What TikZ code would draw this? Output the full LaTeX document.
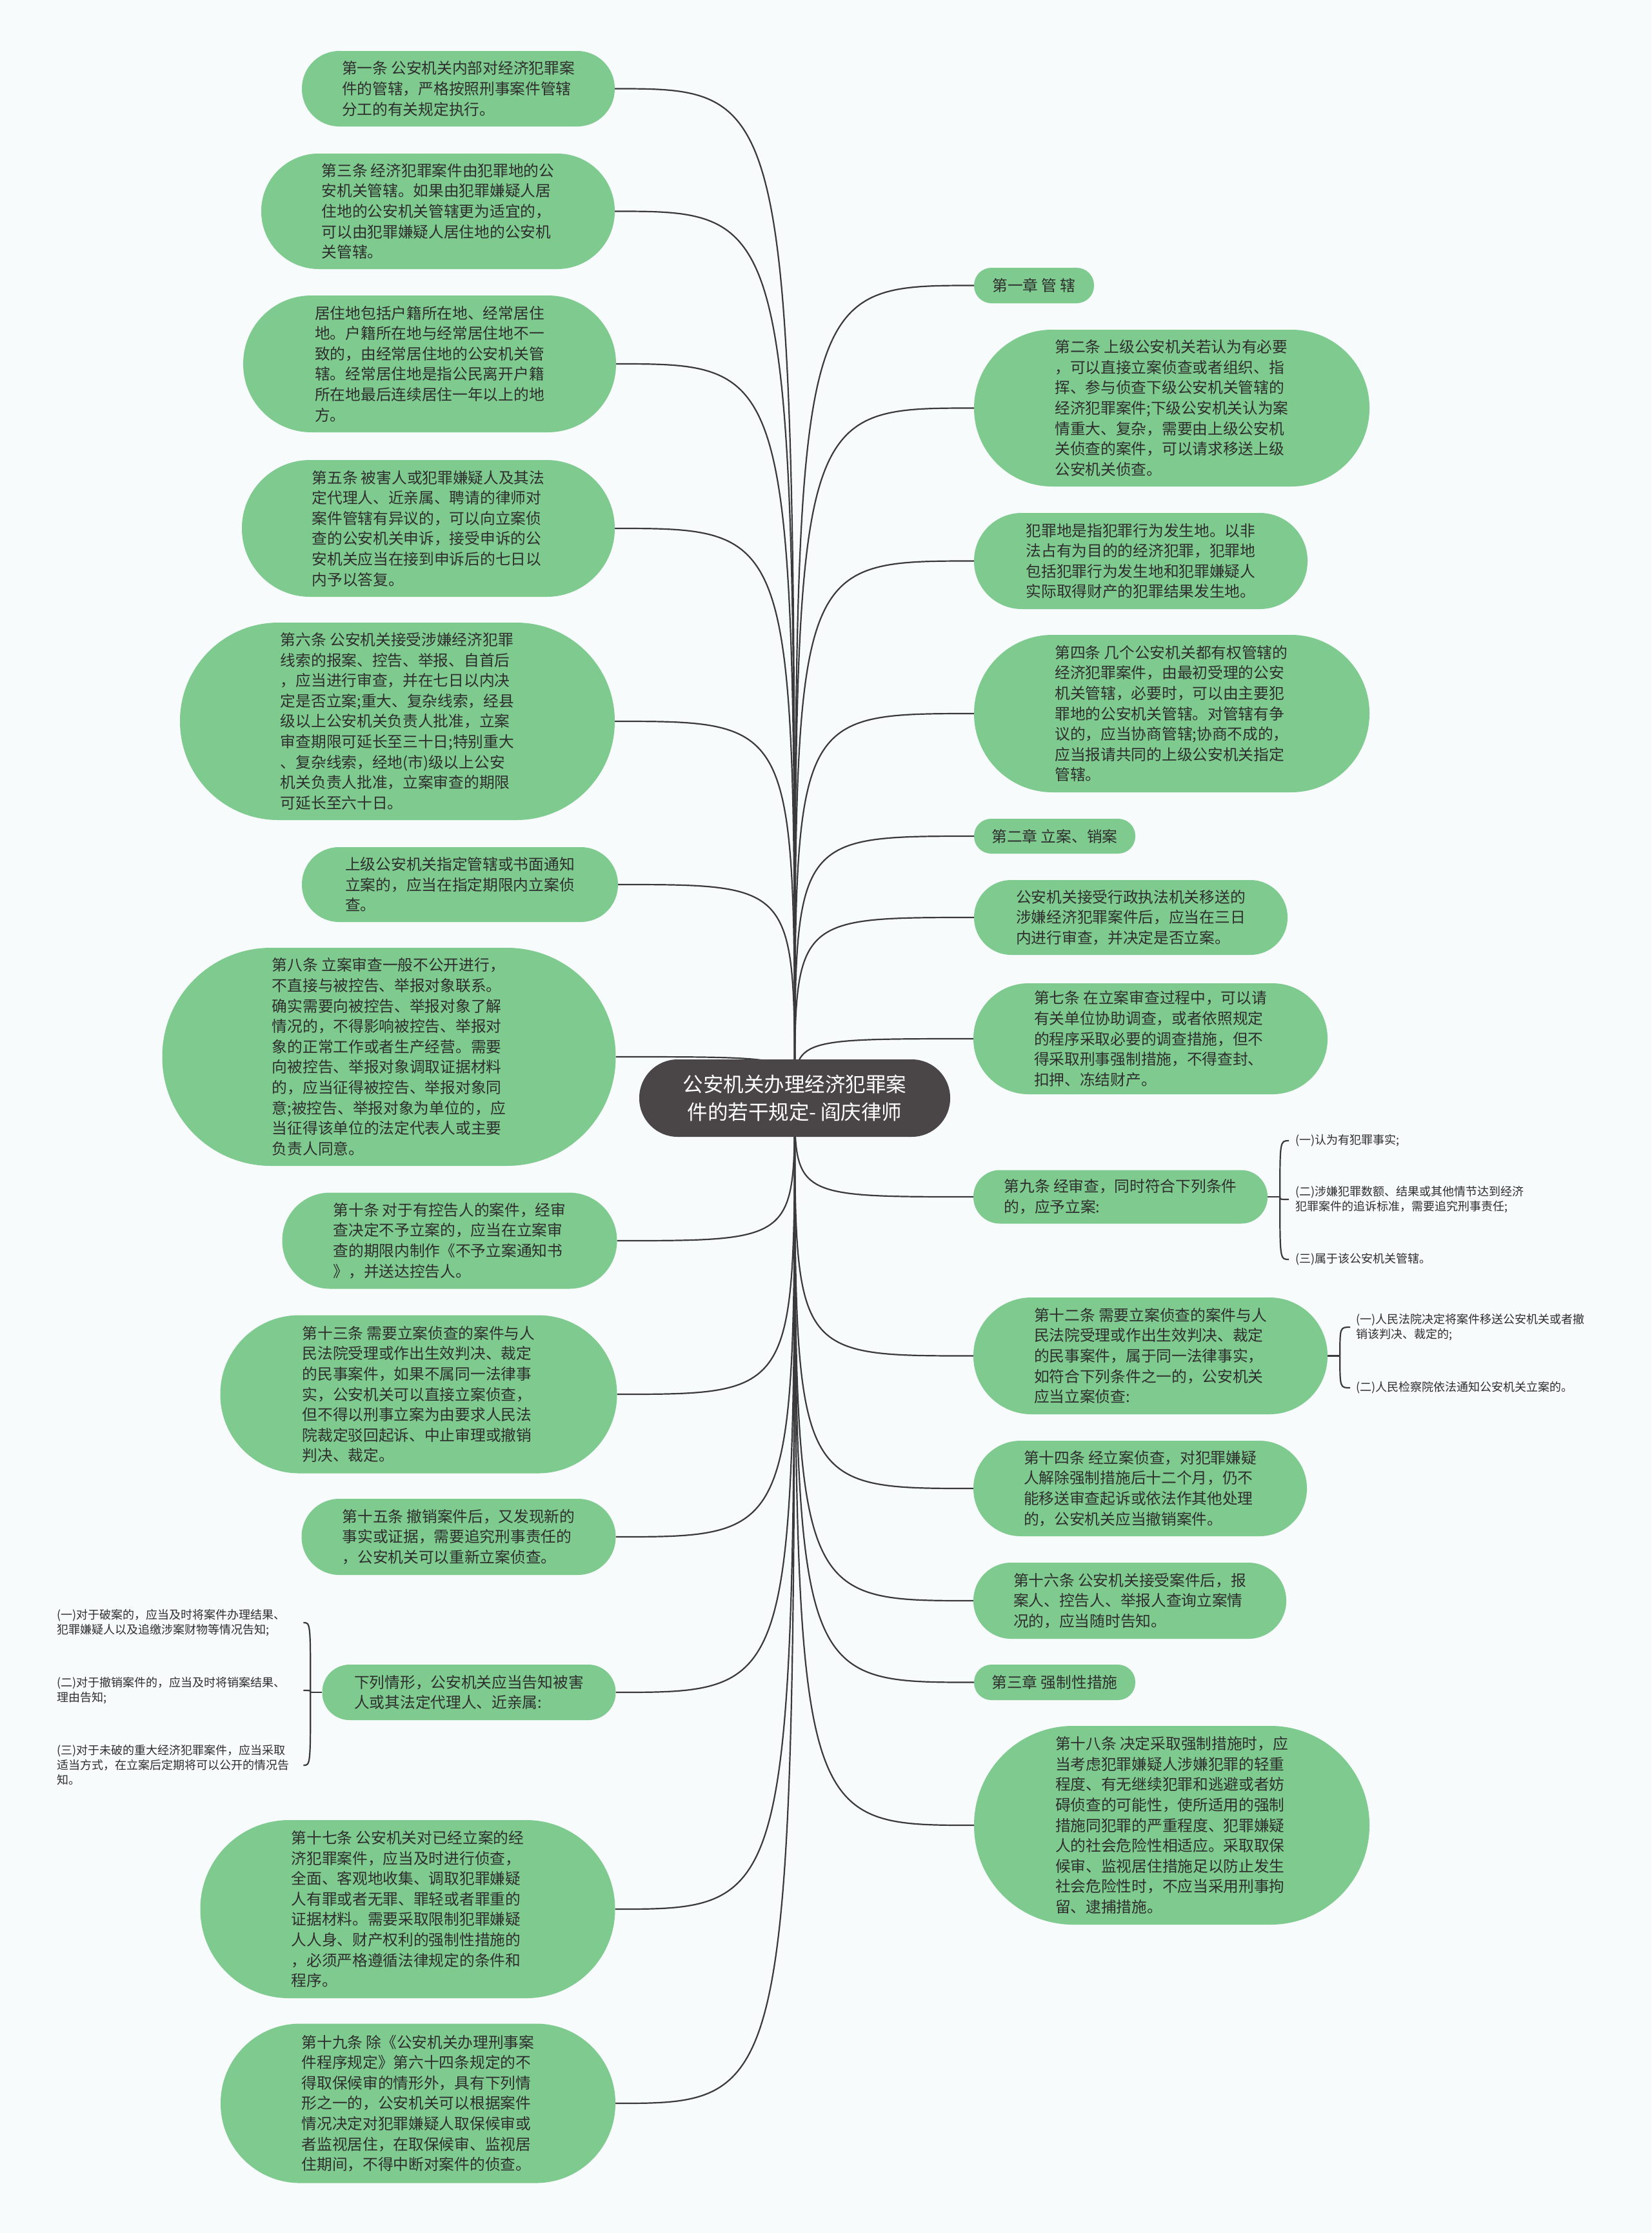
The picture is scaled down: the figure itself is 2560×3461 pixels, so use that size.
\documentclass[tikz,border=0pt]{standalone}
\usepackage{fontspec}
\setmainfont{Noto Sans CJK SC}
\definecolor{bgc}{HTML}{F7FBFC}
\definecolor{nodeg}{HTML}{7FCB8F}
\definecolor{rootc}{HTML}{4A4546}
\definecolor{txtc}{HTML}{2E2E2E}
\definecolor{linec}{HTML}{3A3A3A}
\pgfdeclarelayer{bg}
\pgfsetlayers{bg,main}
\tikzset{
  topic/.style={fill=nodeg, text=txtc, inner sep=0pt, align=left, font=\fontsize{23.7}{31.6}\selectfont},
  pill/.style n args={3}{minimum width=#1pt, minimum height=#2pt, rounded corners=#3pt},
  leaf/.style={text=txtc, inner ysep=0pt, align=left, font=\fontsize{18}{23}\selectfont},
  conn/.style={draw=linec, line width=2.2pt},
}
\begin{document}
\begin{tikzpicture}[x=1pt, y=-1pt]
\useasboundingbox (0,0) rectangle (2560,3461);
% root
\node[fill=rootc, text=white, inner sep=0pt, align=center, font=\fontsize{31.5}{43}\selectfont, pill={482}{120}{59.5}] (root) at (1232,1702) {公安机关办理经济犯罪案\\件的若干规定- 阎庆律师};
% left nodes
\node[topic, pill={485}{117}{58}] (l1) at (710.5,137.5) {第一条 公安机关内部对经济犯罪案\\件的管辖，严格按照刑事案件管辖\\分工的有关规定执行。};
\node[topic, pill={548}{179}{89}] (l2) at (679,327.5) {第三条 经济犯罪案件由犯罪地的公\\安机关管辖。如果由犯罪嫌疑人居\\住地的公安机关管辖更为适宜的，\\可以由犯罪嫌疑人居住地的公安机\\关管辖。};
\node[topic, pill={578}{212}{105.5}] (l3) at (666,564) {居住地包括户籍所在地、经常居住\\地。户籍所在地与经常居住地不一\\致的，由经常居住地的公安机关管\\辖。经常居住地是指公民离开户籍\\所在地最后连续居住一年以上的地\\方。};
\node[topic, pill={578}{212}{105.5}] (l4) at (664,819) {第五条 被害人或犯罪嫌疑人及其法\\定代理人、近亲属、聘请的律师对\\案件管辖有异议的，可以向立案侦\\查的公安机关申诉，接受申诉的公\\安机关应当在接到申诉后的七日以\\内予以答复。};
\node[topic, pill={674}{306}{152.5}] (l5) at (616,1118) {第六条 公安机关接受涉嫌经济犯罪\\线索的报案、控告、举报、自首后\\，应当进行审查，并在七日以内决\\定是否立案;重大、复杂线索，经县\\级以上公安机关负责人批准，立案\\审查期限可延长至三十日;特别重大\\、复杂线索，经地(市)级以上公安\\机关负责人批准，立案审查的期限\\可延长至六十日。};
\node[topic, pill={490}{116}{57.5}] (l6) at (713,1371) {上级公安机关指定管辖或书面通知\\立案的，应当在指定期限内立案侦\\查。};
\node[topic, pill={703}{338}{168.5}] (l7) at (603,1638) {第八条 立案审查一般不公开进行，\\不直接与被控告、举报对象联系。\\确实需要向被控告、举报对象了解\\情况的，不得影响被控告、举报对\\象的正常工作或者生产经营。需要\\向被控告、举报对象调取证据材料\\的，应当征得被控告、举报对象同\\意;被控告、举报对象为单位的，应\\当征得该单位的法定代表人或主要\\负责人同意。};
\node[topic, pill={519}{149}{74}] (l8) at (697,1923) {第十条 对于有控告人的案件，经审\\查决定不予立案的，应当在立案审\\查的期限内制作《不予立案通知书\\》，并送达控告人。};
\node[topic, pill={615}{245}{122}] (l9) at (649,2161) {第十三条 需要立案侦查的案件与人\\民法院受理或作出生效判决、裁定\\的民事案件，如果不属同一法律事\\实，公安机关可以直接立案侦查，\\但不得以刑事立案为由要求人民法\\院裁定驳回起诉、中止审理或撤销\\判决、裁定。};
\node[topic, pill={487}{118}{58.5}] (l10) at (711,2382) {第十五条 撤销案件后，又发现新的\\事实或证据，需要追究刑事责任的\\，公安机关可以重新立案侦查。};
\node[topic, pill={455}{86}{42.5}] (l11) at (727,2623) {下列情形，公安机关应当告知被害\\人或其法定代理人、近亲属:};
\node[topic, pill={643}{276}{137.5}] (l12) at (632,2959) {第十七条 公安机关对已经立案的经\\济犯罪案件，应当及时进行侦查，\\全面、客观地收集、调取犯罪嫌疑\\人有罪或者无罪、罪轻或者罪重的\\证据材料。需要采取限制犯罪嫌疑\\人人身、财产权利的强制性措施的\\，必须严格遵循法律规定的条件和\\程序。};
\node[topic, pill={612}{247}{123}] (l13) at (648,3260) {第十九条 除《公安机关办理刑事案\\件程序规定》第六十四条规定的不\\得取保候审的情形外，具有下列情\\形之一的，公安机关可以根据案件\\情况决定对犯罪嫌疑人取保候审或\\者监视居住，在取保候审、监视居\\住期间，不得中断对案件的侦查。};
% left leaves
\node[leaf, anchor=west, inner xsep=4pt, text width=378pt] (la) at (84,2515) {(一)对于破案的，应当及时将案件办理结果、\\犯罪嫌疑人以及追缴涉案财物等情况告知;};
\node[leaf, anchor=west, inner xsep=4pt, text width=378pt] (lb) at (84,2620) {(二)对于撤销案件的，应当及时将销案结果、\\理由告知;};
\node[leaf, anchor=west, inner xsep=4pt, text width=378pt] (lc) at (84,2736) {(三)对于未破的重大经济犯罪案件，应当采取\\适当方式，在立案后定期将可以公开的情况告\\知。};
% right nodes
\node[topic, pill={186}{55}{27}] (r1) at (1603,442.5) {第一章 管 辖};
\node[topic, pill={613}{243}{121}] (r2) at (1816.5,632.5) {第二条 上级公安机关若认为有必要\\，可以直接立案侦查或者组织、指\\挥、参与侦查下级公安机关管辖的\\经济犯罪案件;下级公安机关认为案\\情重大、复杂，需要由上级公安机\\关侦查的案件，可以请求移送上级\\公安机关侦查。};
\node[topic, pill={517}{149}{74}] (r3) at (1768.5,869.5) {犯罪地是指犯罪行为发生地。以非\\法占有为目的的经济犯罪，犯罪地\\包括犯罪行为发生地和犯罪嫌疑人\\实际取得财产的犯罪结果发生地。};
\node[topic, pill={613}{244}{121.5}] (r4) at (1816.5,1106) {第四条 几个公安机关都有权管辖的\\经济犯罪案件，由最初受理的公安\\机关管辖，必要时，可以由主要犯\\罪地的公安机关管辖。对管辖有争\\议的，应当协商管辖;协商不成的，\\应当报请共同的上级公安机关指定\\管辖。};
\node[topic, pill={250}{54}{26.5}] (r5) at (1635,1296) {第二章 立案、销案};
\node[topic, pill={486}{116}{57.5}] (r6) at (1753,1422) {公安机关接受行政执法机关移送的\\涉嫌经济犯罪案件后，应当在三日\\内进行审查，并决定是否立案。};
\node[topic, pill={549}{172}{85.5}] (r7) at (1783.5,1610) {第七条 在立案审查过程中，可以请\\有关单位协助调查，或者依照规定\\的程序采取必要的调查措施，但不\\得采取刑事强制措施，不得查封、\\扣押、冻结财产。};
\node[topic, pill={456}{83}{41}] (r8) at (1737,1855) {第九条 经审查，同时符合下列条件\\的，应予立案:};
\node[topic, pill={549}{181}{90}] (r9) at (1783.5,2101.5) {第十二条 需要立案侦查的案件与人\\民法院受理或作出生效判决、裁定\\的民事案件，属于同一法律事实，\\如符合下列条件之一的，公安机关\\应当立案侦查:};
\node[topic, pill={517}{148}{73.5}] (r10) at (1767.5,2307) {第十四条 经立案侦查，对犯罪嫌疑\\人解除强制措施后十二个月，仍不\\能移送审查起诉或依法作其他处理\\的，公安机关应当撤销案件。};
\node[topic, pill={485}{118}{58.5}] (r11) at (1751.5,2481) {第十六条 公安机关接受案件后，报\\案人、控告人、举报人查询立案情\\况的，应当随时告知。};
\node[topic, pill={250}{55}{27}] (r12) at (1635,2607.5) {第三章 强制性措施};
\node[topic, pill={613}{308}{153.5}] (r13) at (1816.5,2829) {第十八条 决定采取强制措施时，应\\当考虑犯罪嫌疑人涉嫌犯罪的轻重\\程度、有无继续犯罪和逃避或者妨\\碍侦查的可能性，使所适用的强制\\措施同犯罪的严重程度、犯罪嫌疑\\人的社会危险性相适应。采取取保\\候审、监视居住措施足以防止发生\\社会危险性时，不应当采用刑事拘\\留、逮捕措施。};
% right leaves
\node[leaf, anchor=west, inner xsep=10pt] (ra) at (1998,1768) {(一)认为有犯罪事实;};
\node[leaf, anchor=west, inner xsep=10pt] (rb) at (1998,1859) {(二)涉嫌犯罪数额、结果或其他情节达到经济\\犯罪案件的追诉标准，需要追究刑事责任;};
\node[leaf, anchor=west, inner xsep=10pt] (rc) at (1998,1952) {(三)属于该公安机关管辖。};
\node[leaf, anchor=west, inner xsep=9pt] (rd) at (2093,2057) {(一)人民法院决定将案件移送公安机关或者撤\\销该判决、裁定的;};
\node[leaf, anchor=west, inner xsep=9pt] (re) at (2093,2151) {(二)人民检察院依法通知公安机关立案的。};
% connectors
\begin{pgfonlayer}{bg}
\fill[bgc] (0,0) rectangle (2560,3461);
\foreach \n in {l1,l2,l3,l4,l5,l6,l7,l8,l9,l10,l11,l12,l13}
  \draw[conn] (root.center) .. controls (root.center |- \n.east) .. (\n.east);
\foreach \n in {r1,r2,r3,r4,r5,r6,r7,r8,r9,r10,r11,r12,r13}
  \draw[conn] (root.center) .. controls (root.center |- \n.west) .. (\n.west);
\draw[conn] (l11.west) -- ++(-18,0) coordinate (jl);
\foreach \m in {la,lb,lc}
  \draw[conn] (jl) .. controls (jl |- \m.east) .. (\m.east);
\draw[conn] (r8.east) -- ++(19,0) coordinate (jr1);
\foreach \m in {ra,rb,rc}
  \draw[conn] (jr1) .. controls (jr1 |- \m.west) .. (\m.west);
\draw[conn] (r9.east) -- ++(19,0) coordinate (jr2);
\foreach \m in {rd,re}
  \draw[conn] (jr2) .. controls (jr2 |- \m.west) .. (\m.west);
\end{pgfonlayer}
\end{tikzpicture}
\end{document}
